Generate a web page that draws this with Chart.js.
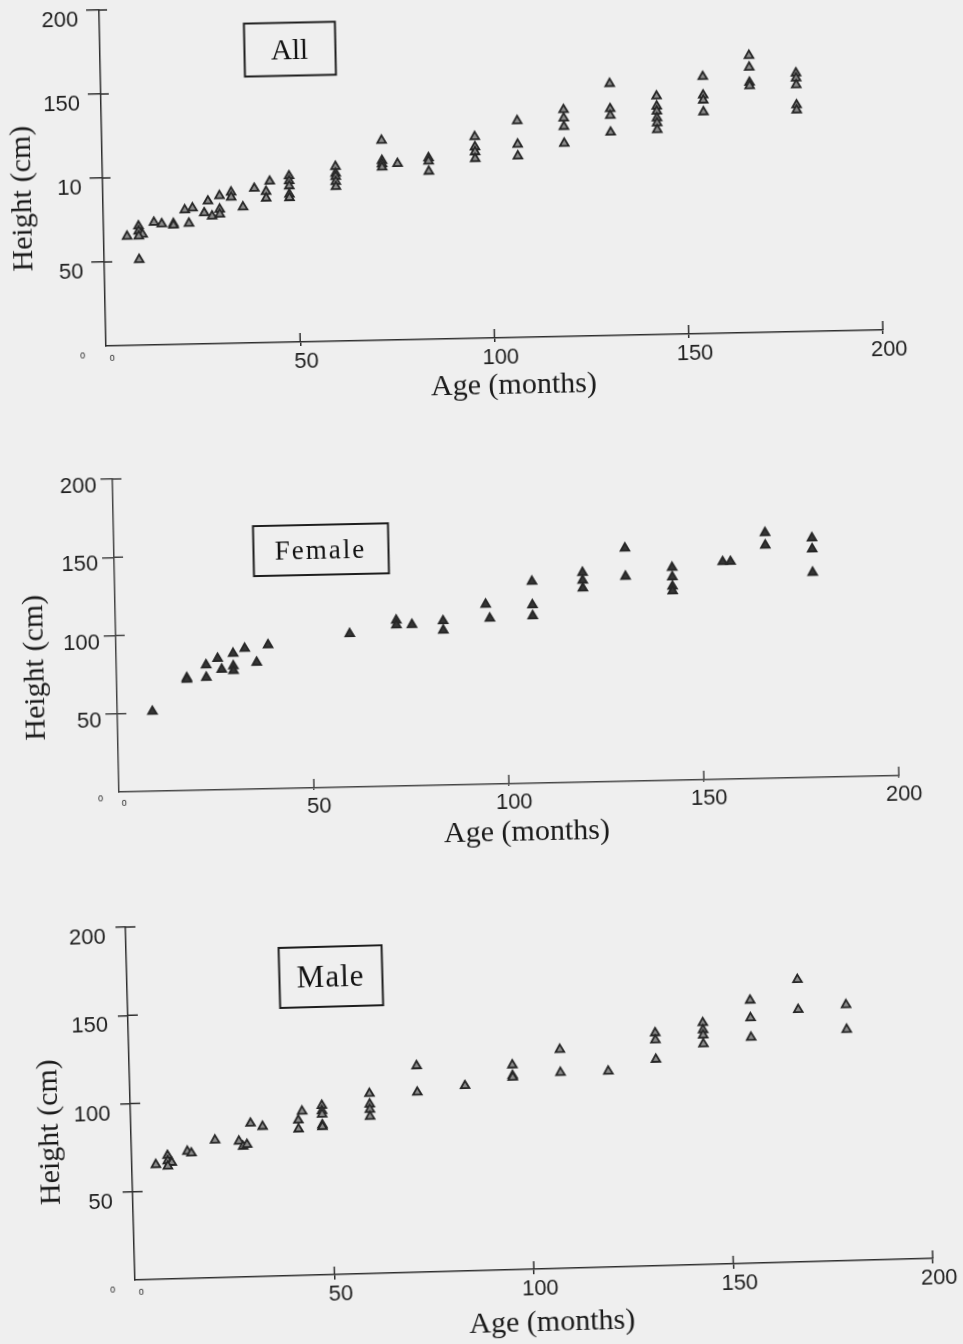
<!DOCTYPE html>
<html>
<head>
<meta charset="utf-8">
<title>Height by age</title>
<script src="https://cdn.jsdelivr.net/npm/chart.js@4.4.0/dist/chart.umd.min.js"></script>
<style>
  html, body { margin: 0; padding: 0; background: #efefef; width: 963px; height: 1344px; overflow: hidden; }
  .panel { position: absolute; left: 0; width: 963px; }
  .panel canvas { position: absolute; left: 0; top: 0; }
  .tag { position: absolute; transform: translate(-50%, -50%); border: 2px solid #1e1e1e; box-sizing: border-box;
         display: flex; align-items: center; justify-content: center;
         font-family: "Liberation Serif", "Times New Roman", serif; color: #111; }
  .ytitle, .xtitle { position: absolute; white-space: nowrap; font-family: "Liberation Serif", "Times New Roman", serif;
         font-size: 30px; color: #1a1a1a; line-height: 1; }
  .ytitle { transform: translate(-50%, -50%) rotate(-90deg); }
  .xtitle { transform: translate(-50%, -50%); }
</style>
</head>
<body>
<script>
// ---- data: age in months, height in cm ----
const ageAll = [6, 9, 9, 10, 9, 9, 13, 15, 18, 18, 21, 23, 22, 27, 26, 28, 30, 30, 30, 33, 33, 36, 39, 43, 42, 42,
  48, 48, 48, 48, 48, 60, 60, 60, 60, 60, 72, 72, 72, 72, 76, 84, 84, 84, 96, 96, 96, 96,
  107, 107, 107, 119, 119, 119, 119, 131, 131, 131, 131, 143, 143, 143, 143, 143, 143,
  155, 155, 155, 155, 167, 167, 167, 167, 179, 179, 179, 179, 179];
const heightAll = [65, 71, 68, 66, 65, 51, 73, 72, 72, 71, 80, 81, 72, 85, 78, 76, 80, 77, 88, 90, 87, 81, 92, 96, 90, 86,
  99, 96, 93, 88, 86, 104, 100, 98, 95, 92, 119, 107, 105, 103, 105, 108, 106, 100, 120, 114, 111, 107,
  129, 115, 108, 135, 130, 125, 115, 150, 135, 131, 121, 142, 136, 133, 129, 126, 122,
  153, 142, 139, 132, 165, 158, 149, 147, 154, 151, 147, 135, 132];

const ageFemale = [9, 18, 18, 23, 23, 26, 27, 30, 30, 30, 33, 36, 39, 60, 72, 72, 76, 84, 84, 95, 96,
  107, 107, 107, 120, 120, 120, 131, 131, 143, 143, 143, 143, 156, 158, 167, 167, 179, 179, 179];
const heightFemale = [51, 72, 71, 72, 80, 84, 77, 87, 79, 76, 90, 81, 92, 98, 106, 103, 103, 105, 99, 115, 106,
  129, 114, 107, 134, 129, 124, 149, 131, 136, 130, 124, 121, 139, 139, 157, 149, 153, 146, 131];

const ageMale = [6, 9, 9, 10, 9, 14, 15, 21, 27, 28, 29, 30, 33, 42, 42, 43, 48, 48, 48, 48, 48,
  60, 60, 60, 60, 72, 72, 84, 96, 96, 96, 108, 108, 120, 132, 132, 132, 144, 144, 144, 144,
  156, 156, 156, 168, 168, 180, 180];
const heightMale = [65, 70, 67, 66, 64, 72, 71, 78, 77, 74, 75, 87, 85, 88, 83, 93, 96, 93, 91, 85, 84,
  102, 96, 93, 89, 117, 102, 105, 116, 110, 109, 124, 111, 111, 132, 128, 117, 137, 133, 130, 125,
  149, 139, 128, 160, 143, 145, 131];

// ---- axis ticks and captions ----
const xTickValues = [0, 50, 100, 150, 200];
const xTickLabels = ['0', '50', '100', '150', '200'];
const yTickValues = [0, 50, 100, 150, 200];
const yTickLabelsAll = ['0', '50', '10', '150', '200'];
const yTickLabels = ['0', '50', '100', '150', '200'];
const groupNames = ['All', 'Female', 'Male'];
const xAxisTitle = 'Age (months)';
const yAxisTitle = 'Height (cm)';

// ---- panel layout ----
const panels = [
  { name: groupNames[0], ages: ageAll, heights: heightAll, yLabels: yTickLabelsAll,
    top: 0, h: 430, area: { left: 106, top: 10, right: 883, bottom: 346 }, tilt: 1.18,
    axisColor: '#2e2e2e', fill: '#8c8c8c', edge: '#262626',
    yOut: 13, yIn: 8, yPad: 8, yShift: 10, xOut: 4, xIn: 9, xPad: 4.5, xShift: 6,
    tag: { x: 295.6, y: 53.3, w: 93, h: 55, size: 29, spacing: 0 },
    yTitle: { x: 24, y: 197 }, xTitle: { x: 513, y: 392 } },
  { name: groupNames[1], ages: ageFemale, heights: heightFemale, yLabels: yTickLabels,
    top: 440, h: 420, area: { left: 119, top: 39, right: 899, bottom: 352 }, tilt: 1.2,
    axisColor: '#444', fill: '#363636', edge: '#262626',
    yOut: 12, yIn: 9, yPad: 4, yShift: 7, xOut: 2, xIn: 9, xPad: 5.5, xShift: 5,
    tag: { x: 325.6, y: 114.2, w: 137, h: 52, size: 27, spacing: 2 },
    yTitle: { x: 35.6, y: 225.7 }, xTitle: { x: 526, y: 398.6 } },
  { name: groupNames[2], ages: ageMale, heights: heightMale, yLabels: yTickLabels,
    top: 880, h: 464, area: { left: 135, top: 47, right: 933, bottom: 400 }, tilt: 1.55,
    axisColor: '#2e2e2e', fill: '#8c8c8c', edge: '#262626',
    yOut: 10, yIn: 10, yPad: 10, yShift: 10, xOut: 5, xIn: 8, xPad: 3.5, xShift: 6,
    tag: { x: 338.7, y: 102.3, w: 105, h: 62, size: 31, spacing: 1 },
    yTitle: { x: 52, y: 250.2 }, xTitle: { x: 551, y: 452.3 } }
];

const sans = '"Liberation Sans", Arial, sans-serif';
const Y_BOX = 60, X_BOX = 40;

// tick marks that cross the axis: the library draws the outer part, this adds the inner part
const innerTicks = {
  id: 'innerTicks',
  beforeDatasetsDraw(chart, args, opts) {
    const { ctx, chartArea, scales: { x, y } } = chart;
    ctx.save();
    ctx.strokeStyle = opts.color;
    ctx.lineWidth = 1.5;
    x.ticks.forEach(t => {
      if (t.value === 0) return;
      const px = x.getPixelForValue(t.value);
      ctx.beginPath(); ctx.moveTo(px, chartArea.bottom); ctx.lineTo(px, chartArea.bottom - opts.xIn); ctx.stroke();
    });
    y.ticks.forEach(t => {
      if (t.value === 0) return;
      const py = y.getPixelForValue(t.value);
      ctx.beginPath(); ctx.moveTo(chartArea.left, py); ctx.lineTo(chartArea.left + opts.yIn, py); ctx.stroke();
    });
    ctx.restore();
  }
};

function tickFont(ctx) {
  const zero = ctx.tick && ctx.tick.value === 0;
  return { family: sans, size: zero ? 9 : 22, lineHeight: 1 };
}

panels.forEach(p => {
  const wrap = document.createElement('div');
  wrap.className = 'panel';
  wrap.style.top = p.top + 'px';
  wrap.style.height = p.h + 'px';
  wrap.style.transformOrigin = p.area.left + 'px ' + p.area.bottom + 'px';
  wrap.style.transform = 'rotate(' + (-p.tilt) + 'deg)';
  document.body.appendChild(wrap);

  const cv = document.createElement('canvas');
  cv.width = 963; cv.height = p.h;
  cv.style.width = '963px'; cv.style.height = p.h + 'px';
  wrap.appendChild(cv);

  const tag = document.createElement('div');
  tag.className = 'tag';
  tag.textContent = p.name;
  Object.assign(tag.style, { left: p.tag.x + 'px', top: p.tag.y + 'px', width: p.tag.w + 'px', height: p.tag.h + 'px',
    fontSize: p.tag.size + 'px', letterSpacing: p.tag.spacing + 'px' });
  wrap.appendChild(tag);

  const yt = document.createElement('div');
  yt.className = 'ytitle'; yt.textContent = yAxisTitle;
  yt.style.left = p.yTitle.x + 'px'; yt.style.top = p.yTitle.y + 'px';
  wrap.appendChild(yt);

  const xt = document.createElement('div');
  xt.className = 'xtitle'; xt.textContent = xAxisTitle;
  xt.style.left = p.xTitle.x + 'px'; xt.style.top = p.xTitle.y + 'px';
  wrap.appendChild(xt);

  const gridColor = ctx => (ctx.tick && ctx.tick.value === 0) ? 'rgba(0,0,0,0)' : p.axisColor;

  new Chart(cv, {
    type: 'scatter',
    data: {
      datasets: [{
        label: p.name,
        data: p.ages.map((a, i) => ({ x: a, y: p.heights[i] })),
        pointStyle: 'triangle',
        pointRadius: 5,
        pointHoverRadius: 5,
        pointBackgroundColor: p.fill,
        pointBorderColor: p.edge,
        pointBorderWidth: 1.8
      }]
    },
    options: {
      responsive: false,
      animation: false,
      devicePixelRatio: 1,
      layout: { padding: { left: p.area.left - Y_BOX, top: p.area.top, right: 963 - p.area.right,
                           bottom: p.h - p.area.bottom - X_BOX } },
      plugins: { legend: { display: false }, tooltip: { enabled: false },
                 innerTicks: { color: p.axisColor, xIn: p.xIn, yIn: p.yIn } },
      scales: {
        x: {
          type: 'linear', min: 0, max: 200,
          afterBuildTicks: s => { s.ticks = xTickValues.map(v => ({ value: v })); },
          afterFit: s => { s.height = X_BOX; s.paddingLeft = 0; s.paddingRight = 0; },
          border: { display: true, color: p.axisColor, width: 1.5 },
          grid: { display: true, drawOnChartArea: false, drawTicks: true, tickLength: p.xOut, color: gridColor, lineWidth: 1.5 },
          ticks: { padding: p.xPad, labelOffset: p.xShift, maxRotation: 0, autoSkip: false, color: '#1f1f1f', font: tickFont,
                   callback: v => xTickLabels[xTickValues.indexOf(v)] }
        },
        y: {
          type: 'linear', min: 0, max: 200,
          afterBuildTicks: s => { s.ticks = yTickValues.map(v => ({ value: v })); },
          afterFit: s => { s.width = Y_BOX; s.paddingTop = 0; s.paddingBottom = 0; },
          border: { display: true, color: p.axisColor, width: 1.5 },
          grid: { display: true, drawOnChartArea: false, drawTicks: true, tickLength: p.yOut, color: gridColor, lineWidth: 1.5 },
          ticks: { padding: p.yPad, labelOffset: p.yShift, autoSkip: false, color: '#1f1f1f', font: tickFont,
                   callback: v => p.yLabels[yTickValues.indexOf(v)] }
        }
      }
    },
    plugins: [innerTicks]
  });
});
</script>
</body>
</html>
